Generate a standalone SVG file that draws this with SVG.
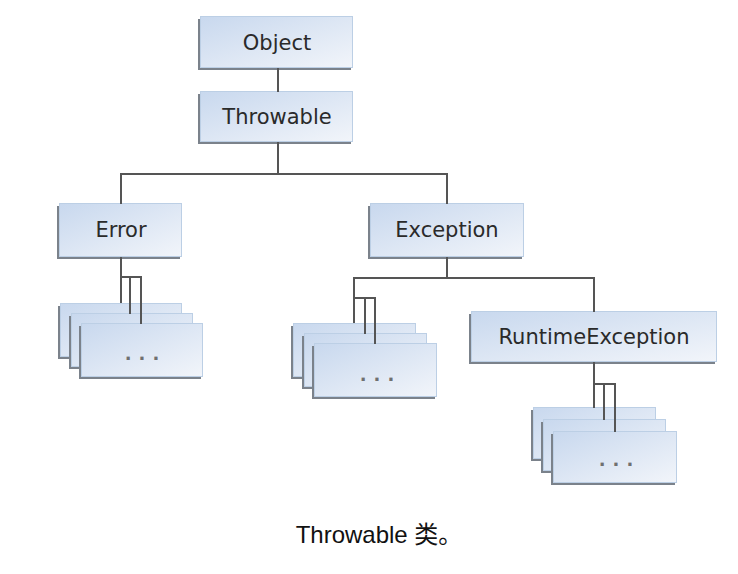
<svg xmlns="http://www.w3.org/2000/svg" width="738" height="574" viewBox="0 0 738 574">
<defs>
<linearGradient id="g" x1="0" y1="0" x2="1" y2="1">
<stop offset="0" stop-color="#c8d8ee"/>
<stop offset="1" stop-color="#f2f5fa"/>
</linearGradient>
<style>
.sh{fill:#7b828b}
.bx{fill:url(#g);stroke:#bccfe5;stroke-width:1}
.lb{font-family:"DejaVu Sans",sans-serif;font-size:21px;fill:#2a2a2a;text-anchor:middle}
.dots{font-family:"DejaVu Sans",sans-serif;font-size:18px;font-weight:bold;fill:#707070;text-anchor:middle;letter-spacing:7px}
.cn{fill:none;stroke:#555;stroke-width:2}
.cap{font-family:"Liberation Sans","Noto Sans CJK SC",sans-serif;font-size:24px;fill:#111;text-anchor:middle}
</style>
</defs>
<rect width="738" height="574" fill="#fff"/>
<g id="object"><rect class="sh" x="198" y="19" width="153" height="51"/><rect class="bx" x="200.5" y="16.5" width="152" height="51"/><text class="lb" x="277" y="50">Object</text></g>
<g id="throwable"><rect class="sh" x="198" y="94" width="153" height="50"/><rect class="bx" x="200.5" y="91.5" width="152" height="50"/><text class="lb" x="277" y="124">Throwable</text></g>
<g id="error"><rect class="sh" x="57" y="206" width="123" height="53"/><rect class="bx" x="59.5" y="203.5" width="122" height="53"/><text class="lb" x="121" y="237">Error</text></g>
<g id="exception"><rect class="sh" x="368" y="206" width="154" height="53"/><rect class="bx" x="370.5" y="203.5" width="153" height="53"/><text class="lb" x="447" y="237">Exception</text></g>
<g id="runtimeexception"><rect class="sh" x="469" y="314" width="246" height="50"/><rect class="bx" x="471.5" y="311.5" width="245" height="50"/><text class="lb" x="594" y="344">RuntimeException</text></g>
<g id="error-subclasses">
<rect class="sh" x="58" y="306" width="122" height="53"/><rect class="bx" x="60.5" y="303.5" width="121" height="53"/>
<rect class="sh" x="69" y="316" width="122" height="53"/><rect class="bx" x="71.5" y="313.5" width="121" height="53"/>
<rect class="sh" x="79" y="326" width="122" height="53"/><rect class="bx" x="81.5" y="323.5" width="121" height="53"/>
<text class="dots" x="145.5" y="360">...</text>
</g>
<g id="exception-subclasses">
<rect class="sh" x="291" y="326" width="123" height="53"/><rect class="bx" x="293.5" y="323.5" width="122" height="53"/>
<rect class="sh" x="302" y="336" width="123" height="53"/><rect class="bx" x="304.5" y="333.5" width="122" height="53"/>
<rect class="sh" x="312" y="346" width="123" height="53"/><rect class="bx" x="314.5" y="343.5" width="122" height="53"/>
<text class="dots" x="380.5" y="381">...</text>
</g>
<g id="runtime-subclasses">
<rect class="sh" x="531" y="410" width="123" height="51"/><rect class="bx" x="533.5" y="407.5" width="122" height="51"/>
<rect class="sh" x="541" y="422" width="123" height="51"/><rect class="bx" x="543.5" y="419.5" width="122" height="51"/>
<rect class="sh" x="551" y="434" width="124" height="51"/><rect class="bx" x="553.5" y="431.5" width="123" height="51"/>
<text class="dots" x="619.5" y="466">...</text>
</g>
<g id="connectors">
<path class="cn" d="M278 68V92"/>
<path class="cn" d="M278 142V174M121 204V174H447V204"/>
<path class="cn" d="M121 257V303M121 277H141V324M130 277V314"/>
<path class="cn" d="M447 257V278M354 323V278H594V312"/>
<path class="cn" d="M354 298H375V344M365 298V334"/>
<path class="cn" d="M594 362V408M594 384H615V432M604 384V420"/>
</g>
<text class="cap" x="379" y="543">Throwable 类。</text>
</svg>
